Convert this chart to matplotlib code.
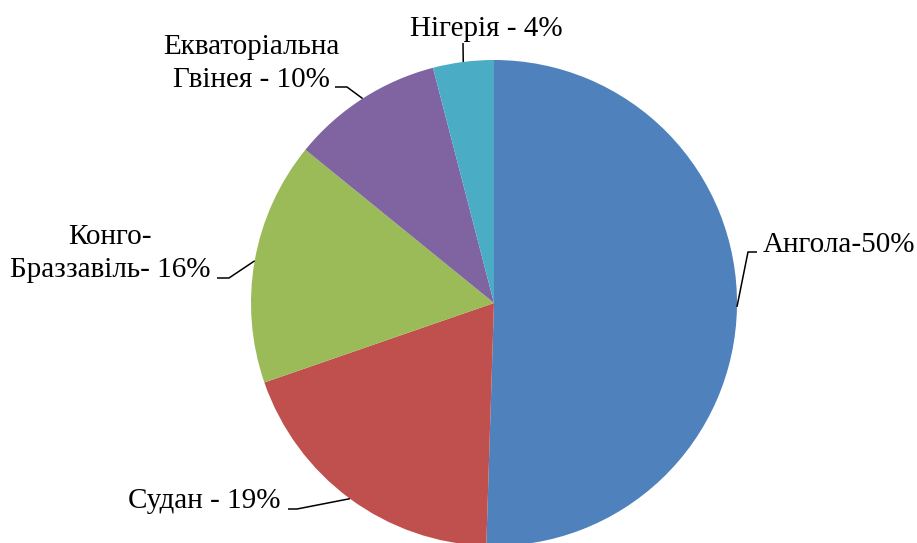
import numpy as np
import matplotlib
matplotlib.use('Agg')
import matplotlib.pyplot as plt

# Data
countries = ['Ангола', 'Судан', 'Конго-\nБраззавіль', 'Екваторіальна\nГвінея', 'Нігерія']
shares = [50, 19, 16, 10, 4]
label_texts = ['Ангола-50%', 'Судан - 19%', 'Конго-\nБраззавіль- 16%',
               'Екваторіальна\nГвінея - 10%', 'Нігерія - 4%']
colors = ['#4F81BD', '#C0504D', '#9BBB59', '#8064A2', '#4BACC6']

W, H = 917, 543
plt.rcParams['font.family'] = ['Liberation Serif', 'DejaVu Serif']

fig = plt.figure(figsize=(W / 100, H / 100), dpi=100)
ax = fig.add_axes([0, 0, 1, 1])

cx, cy, R = 494, H - 303, 243
wedges, _ = ax.pie(shares, colors=colors, startangle=90, counterclock=False,
                   center=(cx, cy), radius=R, wedgeprops=dict(linewidth=0))

# label layout (pixels from top-left): elbow point, line end, text anchor, alignment
layout = [
    dict(elbow=(748, 252), end=(757, 252), txt=(763, 252), ha='left'),
    dict(elbow=(297, 509), end=(288, 509), txt=(280, 508), ha='right'),
    dict(elbow=(229, 278), end=(217, 278), txt=(110, 277), ha='center'),
    dict(elbow=(347, 87), end=(335, 87), txt=(251, 87), ha='center'),
    dict(elbow=(463, 43), end=(463, 43), txt=(486, 36), ha='center'),
]

for w, lab, lay in zip(wedges, label_texts, layout):
    mid = np.radians((w.theta1 + w.theta2) / 2)
    x0 = cx + R * np.cos(mid)
    y0 = cy + R * np.sin(mid)
    xs = [x0, lay['elbow'][0], lay['end'][0]]
    ys = [y0, H - lay['elbow'][1], H - lay['end'][1]]
    ax.plot(xs, ys, color='black', lw=1.1, solid_capstyle='butt')
    ax.text(lay['txt'][0], H - lay['txt'][1], lab, ha=lay['ha'], va='baseline',
            fontsize=21, color='black', multialignment='center', linespacing=1.36)

ax.set_xlim(0, W)
ax.set_ylim(0, H)
ax.set_aspect('equal')
ax.axis('off')

fig.savefig('out.png', dpi=100)
